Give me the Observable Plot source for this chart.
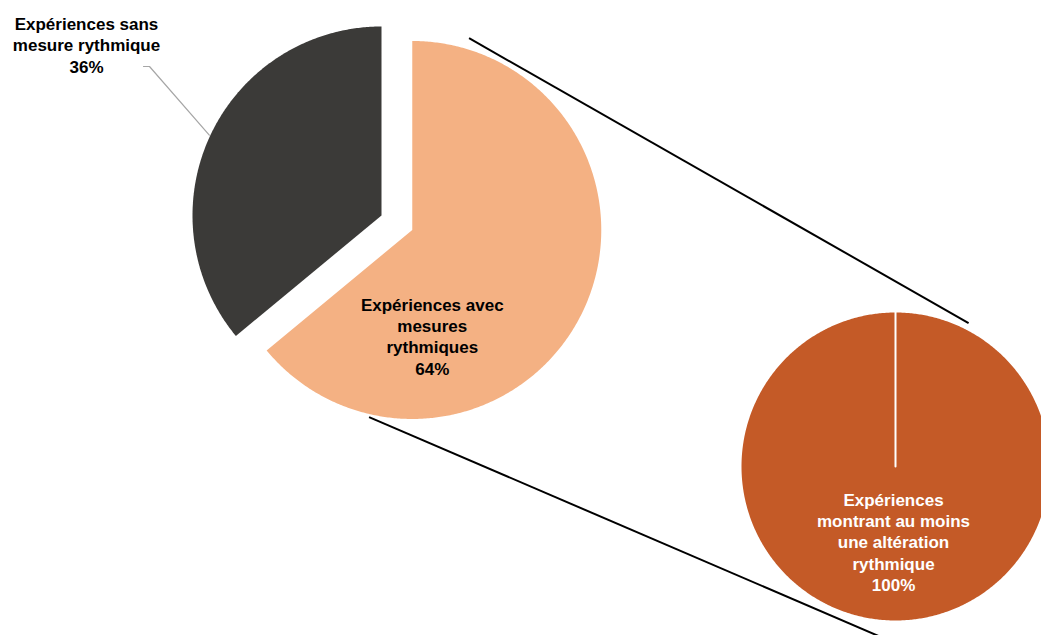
<!DOCTYPE html>
<html>
<head>
<meta charset="utf-8">
<script src="https://cdn.jsdelivr.net/npm/d3@7"></script>
<script src="https://cdn.jsdelivr.net/npm/@observablehq/plot@0.6"></script>
<style>
  html, body { margin: 0; padding: 0; background: #ffffff; }
  #chart svg { display: block; }
</style>
</head>
<body>
<div id="chart"></div>
<script>
// ---- Data ----
const mainCategories = ["Expériences sans mesure rythmique", "Expériences avec mesures rythmiques"];
const mainLabels = ["Expériences sans\nmesure rythmique", "Expériences avec\nmesures\nrythmiques"];
const mainValues = [36, 64];
const subCategories = ["Expériences montrant au moins une altération rythmique"];
const subLabels = ["Expériences\nmontrant au moins\nune altération\nrythmique"];
const subValues = [100];

// ---- Layout / style ----
const W = 1041, H = 635;
const mainColors = ["#3b3a38", "#f4b183"];
const subColors = ["#c45a27"];
const bigR = 189, smallR = 155;
const bigCenter = [381, 215];
const explode = [0, 34];           // explosion distance per main slice
const smallCenter = [895, 466];
const font = "'Liberation Sans', Arial, sans-serif";

const rad = Math.PI / 180;
function polar(c, r, a) { return [c[0] + r * Math.sin(a), c[1] - r * Math.cos(a)]; }

// Main pie: first slice runs counter-clockwise from 12 o'clock
const total = d3.sum(mainValues);
let start = -mainValues[0] / total * 2 * Math.PI;
const mainSlices = mainValues.map((v, i) => {
  const a0 = start, a1 = start + v / total * 2 * Math.PI;
  start = a1;
  const mid = (a0 + a1) / 2;
  const c = polar(bigCenter, explode[i], mid);
  return {name: mainCategories[i], value: v, a0, a1, c, color: mainColors[i]};
});
const subTotal = d3.sum(subValues);
let s2 = 0;
const subSlices = subValues.map((v, i) => {
  const a0 = s2, a1 = s2 + v / subTotal * 2 * Math.PI;
  s2 = a1;
  return {name: subCategories[i], value: v, a0, a1, c: smallCenter, color: subColors[i]};
});

function slicePoints(s, r) {
  const pts = [{x: s.c[0], y: s.c[1]}];
  const n = Math.max(2, Math.ceil((s.a1 - s.a0) / (0.5 * rad)));
  for (let k = 0; k <= n; k++) {
    const a = s.a0 + (s.a1 - s.a0) * k / n;
    const p = polar(s.c, r, a);
    pts.push({x: p[0], y: p[1]});
  }
  pts.push({x: s.c[0], y: s.c[1]});
  return pts;
}

const peach = mainSlices[1];
// connector lines (angle/distance from pie centres)
const connectors = [
  {p1: polar(peach.c, 200, 16.5 * rad), p2: polar(smallCenter, 161, 27 * rad)},
  {p1: polar(peach.c, 192, 193 * rad), p2: polar(smallCenter, 172.8, 183.3 * rad)}
];

const marks = [];
mainSlices.forEach(s => {
  marks.push(Plot.line(slicePoints(s, bigR), {x: "x", y: "y", fill: s.color, stroke: "none", curve: "linear-closed"}));
});
subSlices.forEach(s => {
  marks.push(Plot.line(slicePoints(s, smallR), {x: "x", y: "y", fill: s.color, stroke: "#ffffff", strokeWidth: 2, curve: "linear-closed"}));
});
marks.push(Plot.link(connectors, {
  x1: d => d.p1[0], y1: d => d.p1[1], x2: d => d.p2[0], y2: d => d.p2[1],
  stroke: "#000000", strokeWidth: 2, clip: true
}));

// leader line for the dark slice label
const dark = mainSlices[0];
const leaderEnd = polar(dark.c, 190, -65 * rad);
marks.push(Plot.line([{x: 143, y: 66}, {x: 149, y: 66}, {x: leaderEnd[0], y: leaderEnd[1]}],
  {x: "x", y: "y", stroke: "#a6a6a6", strokeWidth: 1.2}));

const labels = [
  {x: 86, y: 44, text: mainLabels[0] + "\n" + mainValues[0] + "%", color: "#000000"},
  {x: peach.c[0] + 20, y: peach.c[1] + 106, text: mainLabels[1] + "\n" + mainValues[1] + "%", color: "#000000"},
  {x: smallCenter[0] - 2, y: smallCenter[1] + 75, text: subLabels[0] + "\n" + subValues[0] + "%", color: "#ffffff"}
];
labels.forEach(l => {
  marks.push(Plot.text([l], {x: "x", y: "y", text: "text", fill: l.color, fontSize: 17, fontWeight: "bold",
    fontFamily: font, lineHeight: 1.25, textAnchor: "middle", lineAnchor: "middle"}));
});

const chart = Plot.plot({
  width: W, height: H, margin: 0,
  x: {domain: [0, W], axis: null},
  y: {domain: [H, 0], axis: null},
  style: {background: "#ffffff", fontFamily: font},
  marks
});
document.getElementById("chart").appendChild(chart);
</script>
</body>
</html>
